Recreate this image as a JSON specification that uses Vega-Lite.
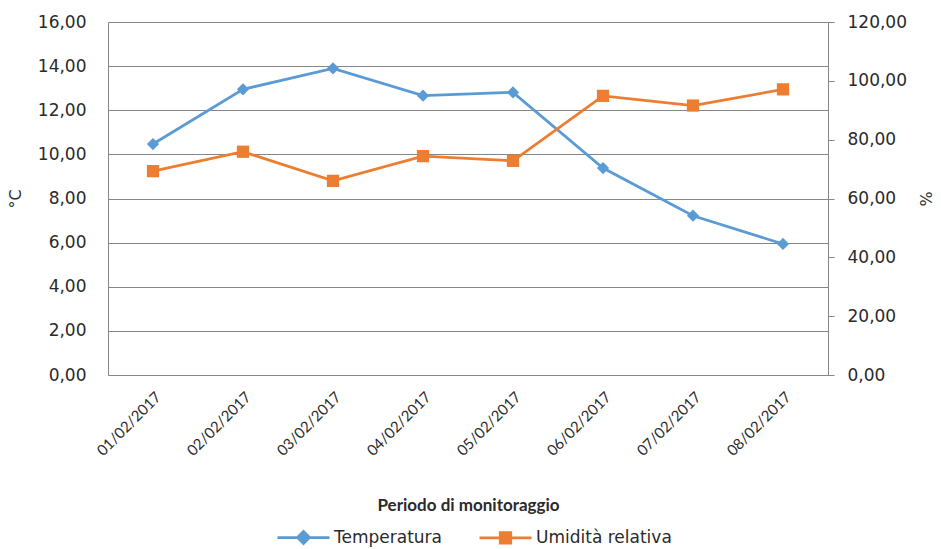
{
  "$schema": "https://vega.github.io/schema/vega-lite/v6.json",
  "width": 720,
  "height": 353,
  "autosize": {"type": "none"},
  "padding": {"left": 108, "top": 22, "right": 113, "bottom": 174},
  "background": "white",
  "config": {
    "locale": {"number": {"decimal": ",", "thousands": ".", "grouping": [3], "currency": ["", " €"]}},
    "view": {"stroke": null},
    "axis": {
      "domainColor": "#868686",
      "gridColor": "#868686",
      "tickColor": "#868686",
      "labelColor": "#2a2a2a",
      "titleColor": "#2a2a2a"
    }
  },
  "data": {
    "values": [
      {"data": "01/02/2017", "temperatura": 10.47, "umidita": 69.3},
      {"data": "02/02/2017", "temperatura": 12.95, "umidita": 75.9},
      {"data": "03/02/2017", "temperatura": 13.9, "umidita": 66.0},
      {"data": "04/02/2017", "temperatura": 12.66, "umidita": 74.4},
      {"data": "05/02/2017", "temperatura": 12.81, "umidita": 72.8},
      {"data": "06/02/2017", "temperatura": 9.38, "umidita": 94.9},
      {"data": "07/02/2017", "temperatura": 7.22, "umidita": 91.6},
      {"data": "08/02/2017", "temperatura": 5.94, "umidita": 97.1}
    ]
  },
  "encoding": {
    "x": {
      "field": "data",
      "type": "ordinal",
      "sort": null,
      "scale": {"type": "point", "padding": 0.5},
      "axis": {
        "title": "Periodo di monitoraggio",
        "titleFont": "Lato",
        "titleFontSize": 17,
        "titleFontWeight": "bold",
        "titlePadding": 39,
        "labelFont": "Lato",
        "labelFontSize": 15,
        "labelAngle": -45,
        "labelPadding": 14,
        "ticks": false,
        "grid": false
      }
    }
  },
  "layer": [
    {
      "encoding": {
        "y": {
          "field": "temperatura",
          "type": "quantitative",
          "scale": {"domain": [0, 16], "nice": false, "zero": true},
          "axis": {
            "title": "°C",
            "titleFont": "DejaVu Sans",
            "titleFontSize": 16,
            "titleFontWeight": "normal",
            "titlePadding": 14,
            "values": [0, 2, 4, 6, 8, 10, 12, 14, 16],
            "format": ".2f",
            "labelFont": "DejaVu Sans",
            "labelFontSize": 17,
            "labelPadding": 22,
            "ticks": false,
            "grid": true
          }
        },
        "color": {
          "datum": "Temperatura",
          "type": "nominal",
          "scale": {"domain": ["Temperatura", "Umidità relativa"], "range": ["#5b9bd5", "#ed7d31"]},
          "legend": {
            "title": null,
            "orient": "none",
            "direction": "horizontal",
            "legendX": 187,
            "legendY": 507,
            "padding": 0,
            "labelFont": "DejaVu Sans",
            "labelFontSize": 17,
            "labelColor": "#2a2a2a",
            "labelOffset": 22,
            "columnPadding": 31,
            "symbolSize": 100,
            "symbolStrokeWidth": 2.75,
            "encode": {
              "symbols": {
                "update": {
                  "shape": {"signal": "datum.value === 'Temperatura' ? 'M-5.2,0H5.2M0,-1.2L1.2,0L0,1.2L-1.2,0Z' : 'M-5.2,0H5.2M-1.05,-1.05H1.05V1.05H-1.05Z'"},
                  "fill": {"signal": "datum.value === 'Temperatura' ? '#5b9bd5' : '#ed7d31'"},
                  "stroke": {"signal": "datum.value === 'Temperatura' ? '#5b9bd5' : '#ed7d31'"},
                  "strokeWidth": {"value": 2.75},
                  "opacity": {"value": 1}
                }
              }
            }
          }
        }
      },
      "layer": [
        {"mark": {"type": "line", "strokeWidth": 2.75}},
        {"mark": {"type": "point", "shape": "diamond", "filled": true, "size": 150, "opacity": 1}}
      ]
    },
    {
      "encoding": {
        "y": {
          "field": "umidita",
          "type": "quantitative",
          "scale": {"domain": [0, 120], "nice": false, "zero": true},
          "axis": {
            "orient": "right",
            "title": "%",
            "titleFont": "DejaVu Sans",
            "titleFontSize": 16,
            "titleFontWeight": "normal",
            "titlePadding": 28,
            "titleAngle": -90,
            "values": [0, 20, 40, 60, 80, 100, 120],
            "format": ".2f",
            "labelFont": "DejaVu Sans",
            "labelFontSize": 17,
            "labelPadding": 13,
            "ticks": true,
            "tickSize": 6,
            "grid": false
          }
        },
        "color": {
          "datum": "Umidità relativa",
          "type": "nominal"
        }
      },
      "layer": [
        {"mark": {"type": "line", "strokeWidth": 2.75}},
        {"mark": {"type": "point", "shape": "square", "filled": true, "size": 150, "opacity": 1}}
      ]
    }
  ],
  "resolve": {"scale": {"y": "independent"}}
}
